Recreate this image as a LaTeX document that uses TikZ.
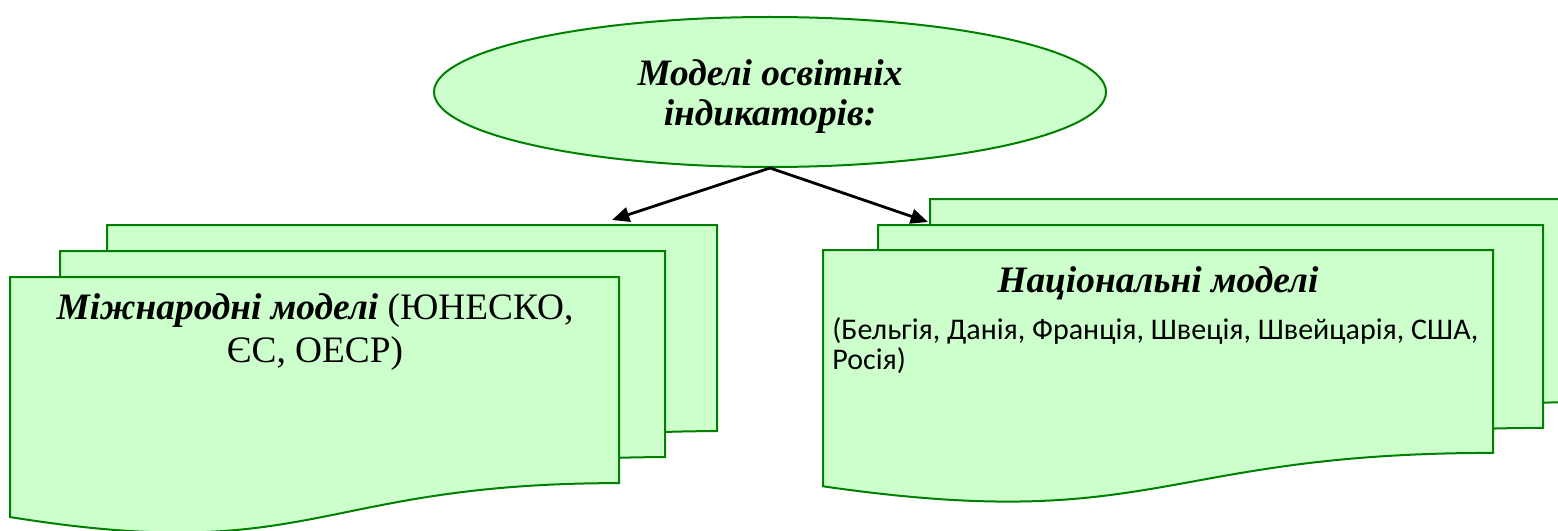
\documentclass[tikz,border=0pt]{standalone}
\usepackage{fontspec}
\setmainfont{Liberation Serif}
\newfontfamily\calib{Carlito}
\usetikzlibrary{arrows.meta,shapes.geometric}
\definecolor{pagefill}{HTML}{CCFFCC}
\definecolor{pageline}{HTML}{008000}
\tikzset{
  pagestyle/.style={fill=pagefill, draw=pageline, line width=1.5pt, line join=miter},
  ovalstyle/.style={ellipse, fill=pagefill, draw=pageline, line width=1.5pt, inner sep=0pt, minimum width=504pt, minimum height=112.5pt},
  linkstyle/.style={line width=2.1pt, -{Triangle[length=13pt,width=11pt]}},
  serifbig/.style={font=\fontsize{28}{34}\selectfont, inner sep=0pt, anchor=base},
  calibtext/.style={font=\calib\fontsize{22.5}{27}\selectfont, inner sep=0pt, anchor=base west}
}
\newcommand\docpage[4]{%
  \filldraw[pagestyle] (#1,#3) -- (#2,#3) -- (#2,{#3+0.802*#4})
    .. controls ({(#1+#2)/2},{#3+0.802*#4}) and ({(#1+#2)/2},{#3+1.125*#4}) ..
    (#1,{#3+0.934*#4}) -- cycle;}
\begin{document}
\begin{tikzpicture}[x=0.75pt, y=-0.75pt]
\clip (0,0) rectangle (1558,531);
% top ellipse
\node[ovalstyle] (top) at (770,92) {};
\node[serifbig] (e1) at (770,86) {\textbf{\textit{Моделі освітніх}}};
\node[serifbig] (e2) at (770,126) {\textbf{\textit{індикаторів:}}};
% left stack
\docpage{107}{717}{225}{257}
\docpage{60}{665}{251}{257}
\docpage{10}{619}{277}{257}
\node[serifbig] (l1) at (315,319) {\textbf{\textit{Міжнародні моделі}} (ЮНЕСКО,};
\node[serifbig] (l2) at (315,362) {ЄС, ОЕСР)};
% right stack
\docpage{930}{1598}{199}{253}
\docpage{878}{1543}{225}{253}
\docpage{823}{1493}{250}{253}
\node[serifbig] (r1) at (1158,292) {\textbf{\textit{Національні моделі}}};
\node[calibtext] (r2) at (832,339) {(Бельгія, Данія, Франція, Швеція, Швейцарія, США,};
\node[calibtext] (r3) at (832,369) {Росія)};
% arrows
\coordinate (la) at (612,220);
\coordinate (ra) at (928,222);
\draw[linkstyle] (top.south) -- (la);
\draw[linkstyle] (top.south) -- (ra);
\end{tikzpicture}
\end{document}
